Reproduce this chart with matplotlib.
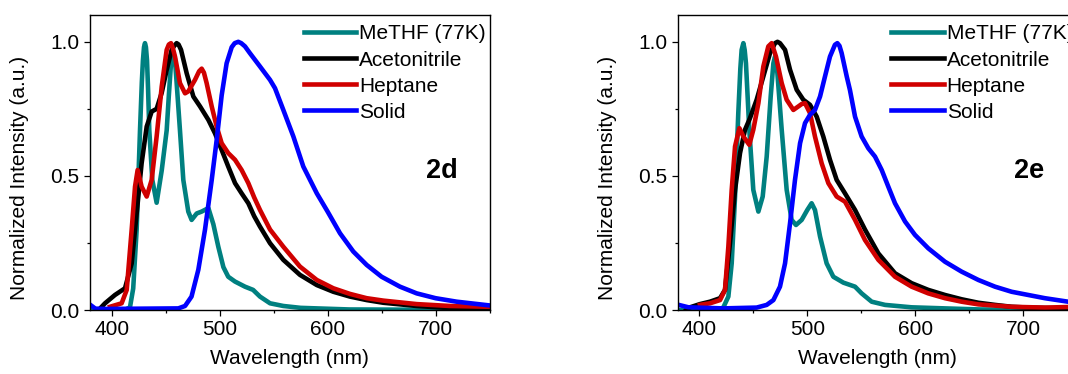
import matplotlib
matplotlib.use("Agg")
import matplotlib.pyplot as plt
from matplotlib.ticker import MultipleLocator

plt.rcParams['font.family'] = ['Liberation Sans', 'DejaVu Sans']

labels = ['MeTHF (77K)', 'Acetonitrile', 'Heptane', 'Solid']
colors = ['#008080', '#000000', '#d00000', '#0000ff']

# ---- panel 2d ----
wl_methf_2d = [380, 412, 417, 420, 423.2, 426.3, 428, 429, 430, 430.9, 431.8, 432.8, 433.8, 434.9, 437.7,
               441.7, 446.4, 451, 453, 455, 457, 458.5, 460, 463.3, 466.4, 471, 474.1, 478.8, 483.4, 489.6,
               494.2, 498.8, 503.5, 508, 514.3, 523.5, 531, 537.4, 546.7, 559, 575, 590, 620, 750]
int_methf_2d = [0, 0, 0.01, 0.08, 0.30, 0.67, 0.85, 0.93, 0.98, 0.995, 0.98, 0.93, 0.82, 0.67, 0.485,
                0.40, 0.52, 0.67, 0.80, 0.92, 0.96, 0.94, 0.86, 0.67, 0.485, 0.367, 0.336, 0.36, 0.367, 0.38,
                0.32, 0.236, 0.16, 0.124, 0.106, 0.087, 0.075, 0.05, 0.025, 0.015, 0.008, 0.006, 0.002, 0]

wl_acn_2d = [388, 393.9, 403.1, 412.4, 418.6, 423.2, 427.8, 432.5, 437.1, 441.7, 446.4, 451, 455.6, 458,
             460.2, 462, 464.3, 469.5, 475.7, 481.9, 489.6, 495.7, 501.9, 508, 514.3, 520.4, 526.6, 532,
             537.4, 546.7, 559, 574.4, 590, 605.3, 620.7, 636.2, 651.6, 682.5, 713.3, 750]
int_acn_2d = [0, 0.025, 0.056, 0.081, 0.174, 0.36, 0.547, 0.684, 0.74, 0.75, 0.81, 0.895, 0.97, 0.985,
              0.995, 0.99, 0.97, 0.883, 0.796, 0.759, 0.709, 0.659, 0.597, 0.535, 0.473, 0.435, 0.398, 0.35,
              0.311, 0.249, 0.187, 0.131, 0.093, 0.068, 0.05, 0.037, 0.027, 0.015, 0.007, 0.005]

wl_hep_2d = [398.5, 409.3, 414, 418.6, 421.7, 424.1, 427.8, 432.5, 437.1, 441.7, 446.4, 451, 453, 455,
             456.8, 458.7, 463.3, 468, 471, 477.2, 481, 483.4, 485.5, 488, 492.7, 497.3, 501.9, 508, 514.3,
             520.4, 526.6, 532, 537.4, 546.7, 559, 574.4, 590, 605.3, 620.7, 636.2, 651.6, 682.5, 713.3, 750]
int_hep_2d = [0.012, 0.025, 0.075, 0.30, 0.46, 0.522, 0.46, 0.423, 0.485, 0.647, 0.833, 0.97, 0.99, 0.995,
              0.975, 0.945, 0.846, 0.808, 0.815, 0.858, 0.89, 0.90, 0.885, 0.846, 0.759, 0.684, 0.622, 0.585,
              0.56, 0.522, 0.473, 0.42, 0.373, 0.30, 0.236, 0.162, 0.112, 0.081, 0.06, 0.044, 0.035, 0.022,
              0.015, 0.012]

wl_solid_2d = [380, 385, 395, 461.8, 468, 474, 480.3, 486.5, 492.7, 497.3, 501.9, 506.5, 511.2, 514,
               517.3, 520, 523.5, 528, 537.4, 546.7, 551.3, 559, 568.3, 577.5, 590, 600, 611.5, 623.8,
               636.2, 650, 667, 682.5, 700, 719.5, 750]
int_solid_2d = [0.02, 0.005, 0.004, 0.006, 0.015, 0.05, 0.15, 0.30, 0.485, 0.634, 0.80, 0.92, 0.98, 0.995,
                1.0, 0.995, 0.983, 0.958, 0.908, 0.858, 0.827, 0.746, 0.647, 0.535, 0.435, 0.367, 0.286,
                0.218, 0.168, 0.124, 0.087, 0.062, 0.044, 0.031, 0.017]

# ---- panel 2e ----
wl_methf_2e = [380, 418, 422.3, 426.9, 430, 433.1, 436.1, 438, 439.2, 440.8, 442, 443.2, 446.3, 450, 454.7,
               458.7, 462.4, 466.1, 468.6, 470.1, 471.2, 472.3, 476.3, 480.9, 485.5, 489.5, 494.8, 500, 504,
               507.1, 511.8, 517.9, 524.1, 533.4, 544.2, 550.3, 559.6, 572, 596.6, 627.5, 660, 750]
int_methf_2e = [0, 0, 0.01, 0.05, 0.174, 0.423, 0.734, 0.90, 0.97, 0.995, 0.97, 0.92, 0.672, 0.448, 0.367,
                0.423, 0.572, 0.796, 0.92, 0.945, 0.93, 0.883, 0.672, 0.448, 0.336, 0.317, 0.336, 0.373,
                0.398, 0.373, 0.274, 0.174, 0.124, 0.102, 0.087, 0.062, 0.031, 0.019, 0.01, 0.006, 0.002, 0]

wl_acn_2e = [388, 391.4, 400.6, 409.9, 419.2, 423.8, 428.4, 433.1, 437.7, 442.3, 446.9, 453.1, 459.3, 465.5,
             470.1, 472.4, 474.7, 479.4, 484, 490.2, 496.3, 502.5, 508.7, 514.8, 521, 527.2, 534.9, 544.2,
             553.4, 565.8, 581.2, 596.6, 612, 627.5, 642.9, 658.4, 673.8, 689.2, 704.6, 735.5, 750]
int_acn_2e = [0, 0.01, 0.022, 0.031, 0.044, 0.075, 0.249, 0.448, 0.585, 0.672, 0.715, 0.784, 0.871, 0.958,
              0.995, 1.0, 0.995, 0.97, 0.896, 0.821, 0.784, 0.765, 0.721, 0.647, 0.56, 0.485, 0.435, 0.373,
              0.3, 0.211, 0.137, 0.1, 0.075, 0.056, 0.04, 0.027, 0.019, 0.012, 0.009, 0.006, 0.005]

wl_hep_2e = [400.6, 409.9, 419.2, 423.8, 426.9, 430, 433.1, 437.1, 440.8, 446.3, 450, 454.7, 459.3, 463.9,
             467, 471, 476.3, 480.9, 487.1, 491.7, 494.8, 497.9, 502.5, 507.1, 513.3, 519.5, 527.2, 534.9,
             544.2, 553.4, 565.8, 581.2, 596.6, 612, 627.5, 642.9, 658.4, 689.2, 720, 750]
int_hep_2e = [0.019, 0.025, 0.037, 0.075, 0.236, 0.448, 0.61, 0.678, 0.647, 0.616, 0.672, 0.771, 0.908, 0.983,
              0.995, 0.945, 0.846, 0.784, 0.746, 0.759, 0.768, 0.771, 0.734, 0.647, 0.547, 0.473, 0.423,
              0.404, 0.336, 0.261, 0.187, 0.124, 0.087, 0.062, 0.044, 0.031, 0.021, 0.012, 0.009, 0.012]

wl_solid_2e = [380, 390, 422.3, 453.1, 462.4, 468.6, 474.7, 479.4, 484, 488.6, 493.3, 497.9, 502.5, 507.1,
               511.8, 516.4, 521, 525.6, 527.8, 529.8, 531.8, 536.5, 539.5, 544.2, 550.3, 556.5, 562.7, 568.9,
               575, 581.2, 590.5, 599.7, 612, 627.5, 642.9, 658.4, 673.8, 689.2, 704.6, 720, 741.4, 755]
int_solid_2e = [0.02, 0.01, 0.006, 0.009, 0.019, 0.037, 0.087, 0.174, 0.323, 0.485, 0.622, 0.697, 0.728, 0.746,
                0.796, 0.871, 0.945, 0.989, 0.995, 0.985, 0.958, 0.871, 0.82, 0.721, 0.647, 0.603, 0.572,
                0.522, 0.46, 0.398, 0.33, 0.28, 0.23, 0.18, 0.143, 0.112, 0.087, 0.068, 0.056, 0.044, 0.031,
                0.027]

fs = 15


def draw_panel(ax, series, tag):
    for (wl, inten), lab, col in zip(series, labels, colors):
        ax.plot(wl, inten, color=col, lw=3.3, label=lab, solid_joinstyle='round')
    ax.set_xlim(380, 750)
    ax.set_ylim(0, 1.1)
    ax.xaxis.set_major_locator(MultipleLocator(100))
    ax.xaxis.set_minor_locator(MultipleLocator(50))
    ax.yaxis.set_major_locator(MultipleLocator(0.5))
    ax.yaxis.set_minor_locator(MultipleLocator(0.25))
    ax.tick_params(which='major', direction='out', length=4.5, width=0.9, labelsize=fs, pad=3)
    ax.tick_params(which='minor', direction='out', length=2.5, width=0.9)
    for sp in ax.spines.values():
        sp.set_linewidth(1.0)
    ax.set_xlabel('Wavelength (nm)', fontsize=fs, labelpad=7)
    ax.set_ylabel('Normalized Intensity (a.u.)', fontsize=fs)
    ax.yaxis.set_label_coords(-0.152, 0.447)
    # legend sits partly outside the figure on the right panel, like the source
    ax.legend(loc='upper left', bbox_to_anchor=(0.535, 0.968), frameon=False, fontsize=fs,
              borderaxespad=0, borderpad=0, handlelength=2.5, handletextpad=0.15, labelspacing=0.34)
    ax.text(0.88, 0.472, tag, transform=ax.transAxes, fontsize=19.5, fontweight='bold',
            ha='center', va='center')


fig = plt.figure(figsize=(10.68, 3.74), dpi=100)
ax1 = fig.add_axes([90 / 1068, 64 / 374, 399.6 / 1068, 295 / 374])
ax2 = fig.add_axes([677.7 / 1068, 64 / 374, 399.6 / 1068, 295 / 374])

draw_panel(ax1, [(wl_methf_2d, int_methf_2d), (wl_acn_2d, int_acn_2d),
                 (wl_hep_2d, int_hep_2d), (wl_solid_2d, int_solid_2d)], '2d')
draw_panel(ax2, [(wl_methf_2e, int_methf_2e), (wl_acn_2e, int_acn_2e),
                 (wl_hep_2e, int_hep_2e), (wl_solid_2e, int_solid_2e)], '2e')

fig.savefig('out.png', dpi=100)
